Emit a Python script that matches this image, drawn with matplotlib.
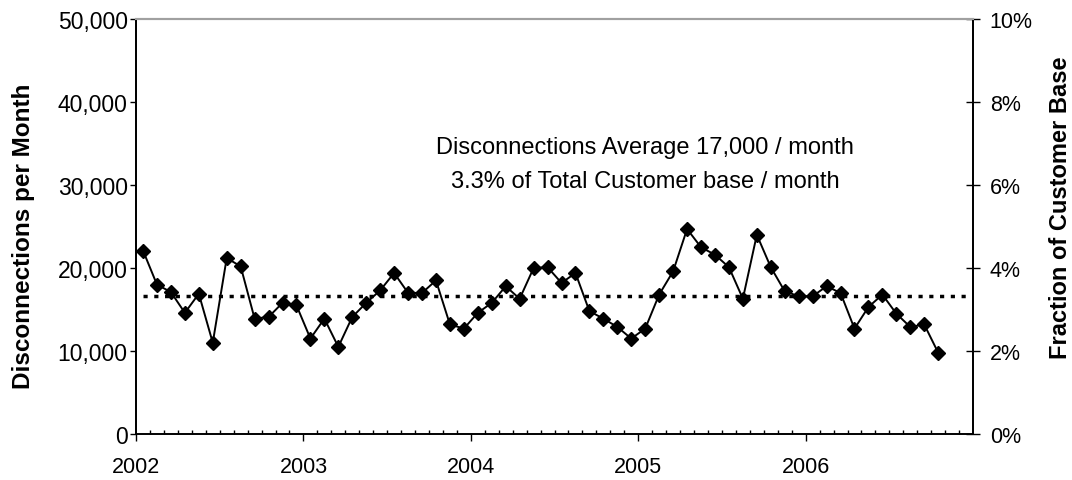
import numpy as np
import matplotlib
matplotlib.use("Agg")
import matplotlib.pyplot as plt
from matplotlib.ticker import FixedLocator, FuncFormatter, PercentFormatter

plt.rcParams['font.family'] = ['Liberation Sans', 'DejaVu Sans']

# === Data (monthly disconnections, Jan 2002 .. Oct 2006) ===
start_year = 2002
year_labels = ["2002", "2003", "2004", "2005", "2006"]
disconnections = [
    22100, 18000, 17100, 14600, 16900, 11000, 21200, 20200, 13900, 14100, 15800, 15500,
    11500, 13900, 10500, 14100, 15800, 17300, 19400, 17000, 17000, 18500, 13200, 12700,
    14600, 15800, 17800, 16300, 20000, 20100, 18200, 19400, 14800, 13900, 12900, 11500,
    12700, 16800, 19600, 24700, 22500, 21600, 20100, 16300, 24000, 20100, 17200, 16600,
    16600, 17800, 17000, 12700, 15300, 16800, 14500, 12900, 13200, 9800,
]
average_value = 16600
average_months = 60          # the average line runs through Dec 2006
customer_base = 500000       # 10% on the right axis == 50,000 on the left
note_lines = ["Disconnections Average 17,000 / month",
              "3.3% of Total Customer base / month"]

# === Figure ===
fig = plt.figure(figsize=(10.72, 4.81), dpi=100)
ax = fig.add_axes([0.1269, 0.0956, 0.7808, 0.8628])

x = np.arange(len(disconnections)) + 0.5
ax.plot(x, disconnections, color="black", lw=1.4, marker="D", ms=7.5,
        mfc="black", mec="black", zorder=3)

x_avg = np.array([0.5, average_months - 0.5])
ax.plot(x_avg, [average_value, average_value], color="black", lw=2.5,
        dashes=(1.2, 1.9), dash_capstyle="butt", zorder=2)

ax.set_xlim(0, 60)
ax.set_ylim(0, 50000)

# x axis: years out, months in
ax.xaxis.set_major_locator(FixedLocator(np.arange(0, 60, 12)))
ax.set_xticklabels(year_labels)
ax.xaxis.set_minor_locator(FixedLocator(np.arange(1, 60)))
ax.tick_params(axis="x", which="major", direction="out", length=5, width=1,
               pad=10.5, labelsize=15.5)
ax.tick_params(axis="x", which="minor", direction="in", length=3, width=1)

# left y axis
ax.set_yticks(np.arange(0, 50001, 10000))
ax.yaxis.set_major_formatter(FuncFormatter(lambda v, p: f"{int(v):,}"))
ax.tick_params(axis="y", direction="out", length=4.5, width=1, pad=1.5,
               labelsize=16.5)
ax.set_ylabel("Disconnections per Month", fontsize=17.5, fontweight="bold",
              va="center")
ax.yaxis.set_label_coords(-0.135, 0.48)

# right y axis as fraction of customer base
ax2 = ax.twinx()
ax2.set_ylim(0, 50000 / customer_base)
ax2.set_yticks(np.arange(0, 0.101, 0.02))
ax2.yaxis.set_major_formatter(PercentFormatter(1.0, decimals=0))
ax2.tick_params(axis="y", direction="inout", length=10, width=1, pad=7,
                labelsize=15.5)
ax2.set_ylabel("Fraction of Customer Base", fontsize=17, fontweight="bold",
               va="center")
ax2.yaxis.set_label_coords(1.104, 0.548)

for a in (ax, ax2):
    a.spines["top"].set_color("#a0a0a0")
    a.spines["top"].set_linewidth(1.5)
    a.spines["left"].set_linewidth(1.3)
    a.spines["right"].set_linewidth(1.3)
    a.spines["bottom"].set_linewidth(1.2)

ax.text(0.608, 0.692, note_lines[0], transform=ax.transAxes, ha="center",
        va="center", fontsize=17)
ax.text(0.608, 0.610, note_lines[1], transform=ax.transAxes, ha="center",
        va="center", fontsize=17)

fig.savefig("out.png", dpi=100)
